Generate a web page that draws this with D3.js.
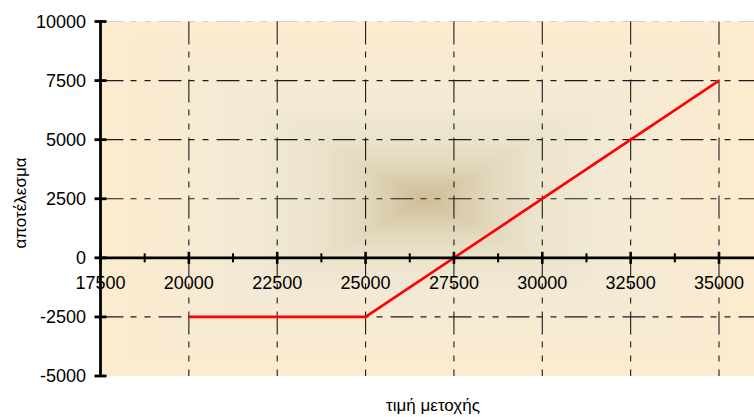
<!DOCTYPE html>
<html>
<head>
<meta charset="utf-8">
<script src="https://cdn.jsdelivr.net/npm/d3@7/dist/d3.min.js"></script>
<style>
  html, body { margin: 0; padding: 0; background: #fff; }
  svg { display: block; font-family: "Liberation Sans", Arial, sans-serif; }
</style>
</head>
<body>
<svg id="chart" width="754" height="417"></svg>
<script>
// Payoff of the position against the share price
const price = [20000, 25000, 35000];
const payoff = [-2500, -2500, 7500];

// Axis ticks
const xTicks = [17500, 20000, 22500, 25000, 27500, 30000, 32500, 35000];
const xMinorTicks = [18750, 21250, 23750, 26250, 28750, 31250, 33750];
const yTicks = [-5000, -2500, 0, 2500, 5000, 7500, 10000];

const xTitle = "τιμή μετοχής";
const yTitle = "αποτέλεσμα";

const svg = d3.select("#chart");

// Plot frame
const pLeft = 100.5, pRight = 754, pTop = 21.5, pBottom = 376;

const x = d3.scaleLinear().domain([17500, 35000]).range([pLeft, 719]);
const y = d3.scaleLinear().domain([-5000, 10000]).range([pBottom, pTop]);

// Rectangular "from centre" fill of the plot area
const defs = svg.append("defs");
defs.append("clipPath").attr("id", "plotClip")
  .append("rect").attr("x", pLeft).attr("y", pTop).attr("width", pRight - pLeft).attr("height", pBottom - pTop);
defs.append("filter").attr("id", "soft").attr("x", "-5%").attr("y", "-5%").attr("width", "110%").attr("height", "110%")
  .append("feGaussianBlur").attr("stdDeviation", 2);

const fillStops = [
  [0.00, "#fcebcf"],
  [0.18, "#f9ebd1"],
  [0.46, "#f2e9d6"],
  [0.64, "#ece4cd"],
  [0.78, "#e4dac0"],
  [0.90, "#d8caa8"],
  [1.00, "#cdbc94"]
];
const fillColor = d3.scaleLinear()
  .domain(fillStops.map(d => d[0]))
  .range(fillStops.map(d => d[1]))
  .interpolate(d3.interpolateRgb);

const cx = (pLeft + pRight) / 2, cy = (pTop + pBottom) / 2;
const hw = (pRight - pLeft) / 2, hh = (pBottom - pTop) / 2;
const steps = d3.range(0, 64).map(i => i / 64);

const bgGroup = svg.append("g").attr("clip-path", "url(#plotClip)");
bgGroup.append("rect").attr("x", pLeft).attr("y", pTop).attr("width", pRight - pLeft).attr("height", pBottom - pTop)
  .attr("fill", fillColor(0));
bgGroup.append("g").attr("filter", "url(#soft)")
  .selectAll("rect").data(steps).join("rect")
  .attr("x", t => cx - hw * (1 - t) - (t === 0 ? 8 : 0))
  .attr("y", t => cy - hh * (1 - t) - (t === 0 ? 8 : 0))
  .attr("width", t => 2 * hw * (1 - t) + (t === 0 ? 16 : 0))
  .attr("height", t => 2 * hh * (1 - t) + (t === 0 ? 16 : 0))
  .attr("fill", t => fillColor(t));

const dash = "23,7,6,8,6,8";

// Top border of the plot area
svg.append("line")
  .attr("x1", pLeft).attr("x2", pRight).attr("y1", pTop).attr("y2", pTop)
  .attr("stroke", "#cfcfcf").attr("stroke-width", 1.2)
  .attr("stroke-dasharray", dash);

// Grid lines
svg.append("g").selectAll("line")
  .data(xTicks.filter(v => v !== 17500)).join("line")
  .attr("x1", d => x(d)).attr("x2", d => x(d))
  .attr("y1", pTop).attr("y2", pBottom)
  .attr("stroke", "#1c1c1c").attr("stroke-width", 1.1)
  .attr("stroke-dasharray", dash);

svg.append("g").selectAll("line")
  .data(yTicks.filter(v => v !== 0 && v !== 10000 && v !== -5000)).join("line")
  .attr("x1", pLeft).attr("x2", pRight)
  .attr("y1", d => y(d)).attr("y2", d => y(d))
  .attr("stroke", "#1c1c1c").attr("stroke-width", 1.1)
  .attr("stroke-dasharray", dash);

// Payoff line
const line = d3.line().x((d, i) => x(price[i])).y(d => y(d));
svg.append("path")
  .datum(payoff)
  .attr("d", line)
  .attr("fill", "none")
  .attr("stroke", "#ff0000")
  .attr("stroke-width", 2.6)
  .attr("stroke-linejoin", "round");

// X axis through zero
const gx = svg.append("g").attr("transform", `translate(0,${y(0)})`);
gx.append("line").attr("x1", pLeft).attr("x2", pRight).attr("y1", 0).attr("y2", 0)
  .attr("stroke", "#000").attr("stroke-width", 2.6);
gx.selectAll("line.major").data(xTicks).join("line").attr("class", "major")
  .attr("x1", d => x(d)).attr("x2", d => x(d)).attr("y1", -6).attr("y2", 6)
  .attr("stroke", "#000").attr("stroke-width", 2.6);
gx.selectAll("line.minor").data(xMinorTicks).join("line").attr("class", "minor")
  .attr("x1", d => x(d)).attr("x2", d => x(d)).attr("y1", -4.5).attr("y2", 4.5)
  .attr("stroke", "#000").attr("stroke-width", 2);
gx.selectAll("text").data(xTicks).join("text")
  .attr("x", d => x(d)).attr("y", 31.5)
  .attr("text-anchor", "middle")
  .attr("font-size", 18).attr("fill", "#000")
  .text(d => d);

// Y axis
const gy = svg.append("g");
gy.append("line").attr("x1", pLeft).attr("x2", pLeft).attr("y1", pTop - 1).attr("y2", pBottom + 1)
  .attr("stroke", "#000").attr("stroke-width", 2.8);
gy.selectAll("line.tick").data(yTicks).join("line").attr("class", "tick")
  .attr("x1", pLeft - 6).attr("x2", pLeft + 6)
  .attr("y1", d => y(d)).attr("y2", d => y(d))
  .attr("stroke", "#000").attr("stroke-width", 2.8);
gy.selectAll("text").data(yTicks).join("text")
  .attr("x", 86).attr("y", d => y(d))
  .attr("dy", "0.35em")
  .attr("text-anchor", "end")
  .attr("font-size", 18).attr("fill", "#000")
  .text(d => d);

// Axis titles
svg.append("text")
  .attr("x", 433).attr("y", 411)
  .attr("text-anchor", "middle")
  .attr("font-size", 17).attr("fill", "#000")
  .text(xTitle);

svg.append("text")
  .attr("transform", "translate(26,203) rotate(-90)")
  .attr("text-anchor", "middle")
  .attr("font-size", 17).attr("fill", "#000")
  .text(yTitle);
</script>
</body>
</html>
